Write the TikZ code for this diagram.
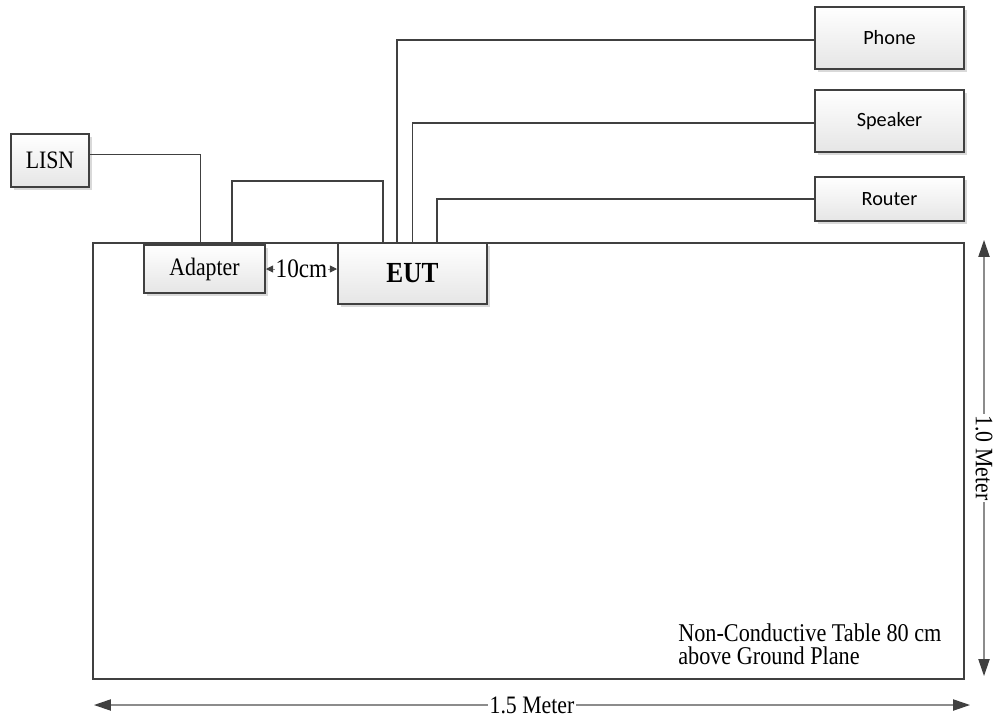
\documentclass[tikz,border=0pt]{standalone}
\usepackage{graphicx}
\usepackage{fontspec}
\setmainfont{Liberation Serif}
\newfontfamily\calibrifont{Carlito}
\usetikzlibrary{arrows.meta,shadows}
\definecolor{boxgray}{HTML}{404040}
\definecolor{dimgray}{HTML}{8C8C8C}
\newcommand{\tallrm}[1]{\scalebox{1}[1.15]{#1}}

\begin{document}
\begin{tikzpicture}[x=0.025cm,y=-0.025cm,
    unitbox/.style={draw=boxgray,line width=1.4pt,top color=white,bottom color=black!10,
      drop shadow={shadow xshift=2pt,shadow yshift=-2pt,fill=black!15,opacity=1},
      inner sep=0pt,font=\fontsize{15.5}{18}\selectfont},
    sansbox/.style={unitbox,font=\calibrifont\fontsize{14.4}{17}\selectfont},
    cable/.style={draw=boxgray,line width=1.2pt},
    thincable/.style={draw=boxgray,line width=0.8pt},
    dimline/.style={draw=dimgray,line width=0.8pt,
      {Triangle[length=12pt,width=8pt,color=boxgray]}-{Triangle[length=12pt,width=8pt,color=boxgray]}},
    gapline/.style={draw=dimgray,line width=0.6pt,
      {Triangle[length=5pt,width=5pt,color=boxgray]}-{Triangle[length=5pt,width=5pt,color=boxgray]}},
    dimlabel/.style={fill=white,inner sep=1pt,font=\fontsize{15.5}{18}\selectfont}]
  \clip (0,0) rectangle (997,719);
  \useasboundingbox (0,0) rectangle (997,719);

  % table
  \draw[draw=boxgray,line width=2.1pt] (93,243) rectangle (964,679);
  \node[anchor=west,align=left,inner sep=0pt,font=\fontsize{15.8}{16.4}\selectfont]
    (tabletext) at (678,644.5) {\tallrm{Non-Conductive Table 80 cm}\\\tallrm{above Ground Plane}};

  % units
  \node[unitbox,minimum width=1.95cm,minimum height=1.325cm] (lisn) at (50,160.5) {\tallrm{LISN}};
  \node[unitbox,minimum width=3.025cm,minimum height=1.2cm] (adapter) at (204.5,269) {\tallrm{Adapter}};
  \node[unitbox,minimum width=3.725cm,minimum height=1.525cm,font=\fontsize{18}{20}\selectfont\bfseries]
    (eut) at (412.5,273.5) {\tallrm{EUT}};
  \node[sansbox,minimum width=3.725cm,minimum height=1.55cm] (phone) at (889.5,38) {Phone};
  \node[sansbox,minimum width=3.725cm,minimum height=1.55cm] (speaker) at (889.5,121) {Speaker};
  \node[sansbox,minimum width=3.725cm,minimum height=1.1cm] (router) at (889.5,199) {Router};

  % cables
  \draw[thincable] ([yshift=0.16cm]lisn.east) -| ([xshift=-0.09cm]adapter.north);
  \draw[cable] ([xshift=0.69cm]adapter.north) -- ++(0,-63) -| ([xshift=-0.74cm]eut.north);
  \draw[cable] ([xshift=-0.39cm]eut.north) |- ([yshift=-0.05cm]phone.west);
  \draw[cable] (eut.north) |- ([yshift=-0.05cm]speaker.west);
  \draw[cable] ([xshift=0.61cm]eut.north) |- (router.west);

  % distances
  \draw[gapline] (adapter.east) -- (adapter.east -| eut.west)
    node[midway,fill=white,inner sep=0.5pt,font=\fontsize{16.5}{18}\selectfont] (gap) {\tallrm{10cm}};
  \coordinate (wleft) at (94,705);
  \coordinate (wright) at (970,705);
  \draw[dimline] (wleft) -- (wright) node[midway,dimlabel] (width) {\tallrm{1.5 Meter}};
  \coordinate (htop) at (984,240);
  \coordinate (hbottom) at (984,676);
  \draw[dimline] (htop) -- (hbottom) node[midway,dimlabel,rotate=-90] (height) {\tallrm{1.0 Meter}};
\end{tikzpicture}
\end{document}
